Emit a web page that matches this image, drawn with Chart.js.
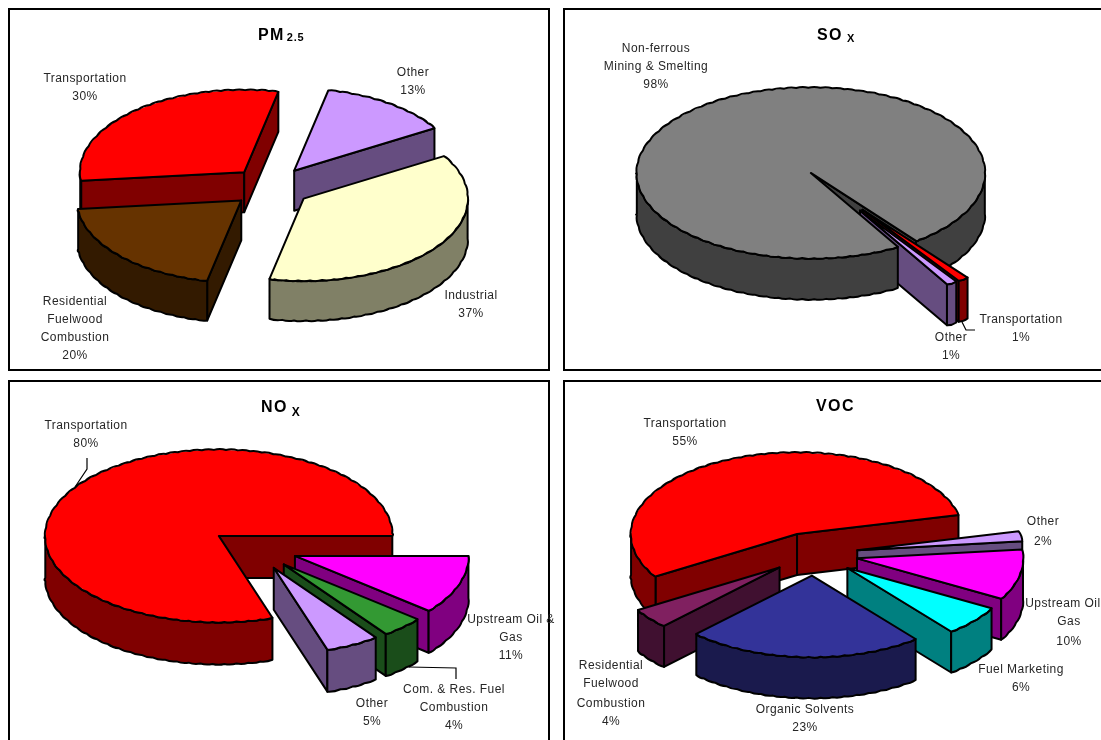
<!DOCTYPE html>
<html>
<head>
<meta charset="utf-8">
<title>Emissions by source</title>
<script src="https://cdn.jsdelivr.net/npm/chart.js@4"></script>
<style>
  html, body { margin: 0; padding: 0; background: #fff; width: 1101px; height: 740px; overflow: hidden; }
  .frame { position: absolute; border: 2px solid #000; box-sizing: border-box; background: #fff; }
  canvas { position: absolute; }
</style>
</head>
<body>
<script>
// ---- Emission shares, in percent, listed clockwise ----
const pm25Categories = ['Transportation', 'Other', 'Industrial', 'Residential\nFuelwood\nCombustion'];
const pm25Values = [30, 13, 37, 20];
const soxCategories = ['Non-ferrous\nMining & Smelting', 'Transportation', 'Other'];
const soxValues = [98, 1, 1];
const noxCategories = ['Transportation', 'Upstream Oil &\nGas', 'Com. & Res. Fuel\nCombustion', 'Other'];
const noxValues = [80, 11, 4, 5];
const vocCategories = ['Transportation', 'Other', 'Upstream Oil &\nGas', 'Fuel Marketing', 'Organic Solvents', 'Residential\nFuelwood\nCombustion'];
const vocValues = [55, 2, 10, 6, 23, 4];

// ---- Slice colours ----
const RED = '#ff0000', LILAC = '#cc99ff', MAGENTA = '#ff00ff';
const pm25Colors = [RED, LILAC, '#ffffcc', '#663300'];
const soxColors = ['#808080', RED, LILAC];
const noxColors = [RED, MAGENTA, '#339933', LILAC];
const vocColors = [RED, LILAC, MAGENTA, '#00ffff', '#333399', '#802060'];

// ---- Page layout: frames, pie geometry, label anchors (page pixels) ----
const panels = [
  {
    id: 'pm25', categories: pm25Categories, values: pm25Values, colors: pm25Colors,
    frame: [8, 8, 542, 363], origin: [0, 0], size: [560, 375],
    center: [271, 187], radius: 164, squash: 0.5, depth: 40, explode: 40, startAngle: 174,
    title: { left: 258, base: 40, main: 'PM', sub: '2.5', subBase: 41, subSize: 11, gap: 2 },
    labels: [[85, [79, 97]], [413, [73, 91]], [471, [296, 314]], [75, [302, 320, 338, 356]]],
    leaders: []
  },
  {
    id: 'sox', categories: soxCategories, values: soxValues, colors: soxColors,
    frame: [563, 8, 560, 363], origin: [560, 0], size: [541, 375],
    center: [836, 191.5], radius: 174, squash: 0.49, depth: 41, explode: 45.5, startAngle: 60,
    title: { left: 817, base: 40, main: 'SO', sub: 'X', subBase: 42, subSize: 11, gap: 4 },
    labels: [[656, [49, 67, 85]], [1021, [320, 338]], [951, [338, 356]]],
    leaders: [[[962, 322], [966, 330], [975, 330]]]
  },
  {
    id: 'nox', categories: noxCategories, values: noxValues, colors: noxColors,
    frame: [8, 380, 542, 380], origin: [0, 375], size: [560, 365],
    center: [254, 548.6], radius: 173.5, squash: 0.496, depth: 42, explode: 43.5, startAngle: 72,
    title: { left: 261, base: 412, main: 'NO', sub: 'X', subBase: 416, subSize: 12, gap: 4 },
    labels: [[86, [426, 444]], [511, [620, 638, 656]], [454, [690, 708, 726]], [372, [704, 722]]],
    leaders: [[[87, 458], [87, 469], [75, 487]], [[409, 667], [456, 668], [456, 679]]]
  },
  {
    id: 'voc', categories: vocCategories, values: vocValues, colors: vocColors,
    frame: [563, 380, 560, 380], origin: [560, 375], size: [541, 365],
    center: [813.9, 554], radius: 166, squash: 0.49, depth: 41, explode: 44, startAngle: 148.5,
    title: { left: 816, base: 411, main: 'VOC' },
    labels: [[685, [424, 442]], [1043, [522, 542]], [1069, [604, 622, 642]], [1021, [670, 688]], [805, [710, 728]], [611, [666, 684, 704, 722]]],
    leaders: []
  }
];

const LABEL_FONT = '12px "Liberation Sans", Arial, sans-serif';
const LABEL_COLOR = '#262626';
const SCALLOP_LENGTH = 12;
const SCALLOP_BULGE = 1.6;

// Side walls are the face colour at half brightness.
function wallColor(hex) {
  const n = parseInt(hex.slice(1), 16);
  const half = v => Math.round(v / 2);
  return `rgb(${half(n >> 16 & 255)},${half(n >> 8 & 255)},${half(n & 255)})`;
}

// Parameter values spaced roughly evenly along an elliptical arc.
function rimSteps(R, ry, t0, t1) {
  const steps = [t0];
  let t = t0;
  while (t < t1) {
    const speed = Math.hypot(R * Math.sin(t), ry * Math.cos(t));
    t += SCALLOP_LENGTH / Math.max(speed, 1);
    if (t < t1 - 0.01) steps.push(t);
    else break;
  }
  steps.push(t1);
  return steps;
}

// Continues the current path along an elliptical rim as a row of small scallops.
function traceRim(ctx, px, py, R, ry, steps) {
  const at = t => [px + R * Math.cos(t), py + ry * Math.sin(t)];
  const [sx, sy] = at(steps[0]);
  ctx.lineTo(sx, sy);
  for (let i = 1; i < steps.length; i++) {
    const tm = (steps[i - 1] + steps[i]) / 2;
    const [mx, my] = at(tm);
    const nx = Math.cos(tm) / R, ny = Math.sin(tm) / ry;
    const nl = Math.hypot(nx, ny);
    const [ex, ey] = at(steps[i]);
    ctx.quadraticCurveTo(mx + SCALLOP_BULGE * nx / nl, my + SCALLOP_BULGE * ny / nl, ex, ey);
  }
}

// Radial cut faces of a slice that turn toward the viewer.
function drawCutFaces(ctx, slice, panel) {
  const { arc, i, px, py } = slice;
  const R = arc.outerRadius, ry = R * panel.squash;
  const angles = [];
  if (Math.cos(arc.startAngle) < 0) angles.push(arc.startAngle);
  if (Math.cos(arc.endAngle) > 0) angles.push(arc.endAngle);
  ctx.fillStyle = wallColor(panel.colors[i]);
  for (const a of angles) {
    const rx = px + R * Math.cos(a), rimY = py + ry * Math.sin(a);
    ctx.beginPath();
    ctx.moveTo(px, py);
    ctx.lineTo(rx, rimY);
    ctx.lineTo(rx, rimY + panel.depth);
    ctx.lineTo(px, py + panel.depth);
    ctx.closePath();
    ctx.fill();
    ctx.stroke();
  }
}

// Curved outer wall over the front half of the ellipse. `part` picks the run
// reaching the slice's end angle ('tail'), the remaining runs ('lead'), or all.
function drawWall(ctx, slice, panel, part) {
  const { arc, i, px, py } = slice;
  const R = arc.outerRadius, ry = R * panel.squash;
  const a0 = arc.startAngle, a1 = arc.endAngle;
  ctx.fillStyle = wallColor(panel.colors[i]);
  const first = Math.floor(a0 / (2 * Math.PI)) - 1;
  for (let k = first; k <= first + 3; k++) {
    const t0 = Math.max(a0, 2 * k * Math.PI);
    const t1 = Math.min(a1, (2 * k + 1) * Math.PI);
    if (t1 <= t0) continue;
    const isTail = t1 === a1;
    if ((part === 'tail' && !isTail) || (part === 'lead' && isTail)) continue;
    const steps = rimSteps(R, ry, t0, t1);
    ctx.beginPath();
    ctx.moveTo(px + R * Math.cos(t0), py + ry * Math.sin(t0));
    traceRim(ctx, px, py, R, ry, steps);
    traceRim(ctx, px, py + panel.depth, R, ry, [...steps].reverse());
    ctx.closePath();
    ctx.fill();
    ctx.stroke();
  }
}

// Top face: the library's own arc, flattened and moved out from the centre.
function drawTop(ctx, slice, panel) {
  const { arc, px, py } = slice;
  const s = panel.squash;
  const R = arc.outerRadius, ry = R * s;
  ctx.save();
  ctx.translate(px, py);
  ctx.scale(1, s);
  ctx.translate(-arc.x, -arc.y);
  arc.draw(ctx);
  ctx.restore();

  ctx.beginPath();
  ctx.moveTo(px, py);
  traceRim(ctx, px, py, R, ry, rimSteps(R, ry, arc.startAngle, arc.endAngle));
  ctx.closePath();
  ctx.stroke();
}

// Paints each slice as an extruded wedge, back to front, using the arc
// geometry the pie controller computed. A slice wrapping most of the way
// round straddles the smaller ones: the faces bordering its gap go behind
// them, its leading wall and top face go in front.
const extrudedPie = {
  id: 'extrudedPie',
  beforeDatasetDraw(chart, args) {
    const panel = chart.options.plugins.extrudedPie.panel;
    const { squash: s, explode: e } = panel;
    const { ctx } = chart;
    const slices = args.meta.data.map((arc, i) => {
      const mid = (arc.startAngle + arc.endAngle) / 2;
      const px = arc.x + e * Math.cos(mid);
      const py = arc.y + e * s * Math.sin(mid);
      return { arc, i, px, py, key: py + arc.outerRadius * s * 0.5 * Math.sin(mid) };
    }).sort((a, b) => a.key - b.key);
    const wraps = sl => sl.arc.circumference > 1.5 * Math.PI;

    ctx.save();
    ctx.lineWidth = 2;
    ctx.lineJoin = 'round';
    ctx.strokeStyle = '#000';
    slices.filter(wraps).forEach(sl => {
      drawCutFaces(ctx, sl, panel);
      drawWall(ctx, sl, panel, 'tail');
    });
    slices.filter(sl => !wraps(sl)).forEach(sl => {
      drawCutFaces(ctx, sl, panel);
      drawWall(ctx, sl, panel, 'all');
      drawTop(ctx, sl, panel);
    });
    slices.filter(wraps).forEach(sl => {
      drawWall(ctx, sl, panel, 'lead');
      drawTop(ctx, sl, panel);
    });
    ctx.restore();
    return false;
  },
  afterDraw(chart) {
    const panel = chart.options.plugins.extrudedPie.panel;
    const { ctx } = chart;
    const [ox, oy] = panel.origin;
    ctx.save();
    ctx.translate(-ox, -oy);

    // Leader lines
    ctx.strokeStyle = '#000';
    ctx.lineWidth = 1.2;
    for (const line of panel.leaders) {
      ctx.beginPath();
      line.forEach(([x, y], i) => (i ? ctx.lineTo(x, y) : ctx.moveTo(x, y)));
      ctx.stroke();
    }

    // Category and percentage labels
    ctx.fillStyle = LABEL_COLOR;
    ctx.font = LABEL_FONT;
    ctx.letterSpacing = '0.45px';
    ctx.textAlign = 'center';
    ctx.textBaseline = 'middle';
    panel.labels.forEach(([x, ys], i) => {
      const lines = [...panel.categories[i].split('\n'), panel.values[i] + '%'];
      lines.forEach((text, j) => ctx.fillText(text, x, ys[j]));
    });

    // Pollutant heading with its subscript
    const t = panel.title;
    ctx.fillStyle = '#000';
    ctx.textAlign = 'left';
    ctx.textBaseline = 'alphabetic';
    ctx.font = 'bold 16px "Liberation Sans", Arial, sans-serif';
    ctx.letterSpacing = '1.4px';
    ctx.fillText(t.main, t.left, t.base);
    if (t.sub) {
      const w = ctx.measureText(t.main).width;
      ctx.font = `bold ${t.subSize}px "Liberation Sans", Arial, sans-serif`;
      ctx.letterSpacing = '0.8px';
      ctx.fillText(t.sub, t.left + w + t.gap, t.subBase);
    }
    ctx.restore();
  }
};

for (const panel of panels) {
  const frame = document.createElement('div');
  frame.className = 'frame';
  const [fx, fy, fw, fh] = panel.frame;
  frame.style.cssText = `left:${fx}px;top:${fy}px;width:${fw}px;height:${fh}px`;
  document.body.appendChild(frame);
}

for (const panel of panels) {
  const canvas = document.createElement('canvas');
  const [w, h] = panel.size;
  canvas.width = w;
  canvas.height = h;
  canvas.id = panel.id;
  canvas.style.cssText = `left:${panel.origin[0]}px;top:${panel.origin[1]}px;width:${w}px;height:${h}px`;
  document.body.appendChild(canvas);

  const cx = panel.center[0] - panel.origin[0];
  const cy = panel.center[1] - panel.origin[1];
  new Chart(canvas, {
    type: 'pie',
    data: {
      labels: panel.categories.map(c => c.replace(/\n/g, ' ')),
      datasets: [{ data: panel.values, backgroundColor: panel.colors, borderWidth: 0 }]
    },
    options: {
      responsive: false,
      animation: false,
      events: [],
      rotation: panel.startAngle + 90,
      radius: panel.radius,
      layout: {
        padding: {
          left: Math.max(0, 2 * cx - w),
          right: Math.max(0, w - 2 * cx),
          top: Math.max(0, 2 * cy - h),
          bottom: Math.max(0, h - 2 * cy)
        }
      },
      plugins: {
        legend: { display: false },
        tooltip: { enabled: false },
        extrudedPie: { panel }
      }
    },
    plugins: [extrudedPie]
  });
}
</script>
</body>
</html>
